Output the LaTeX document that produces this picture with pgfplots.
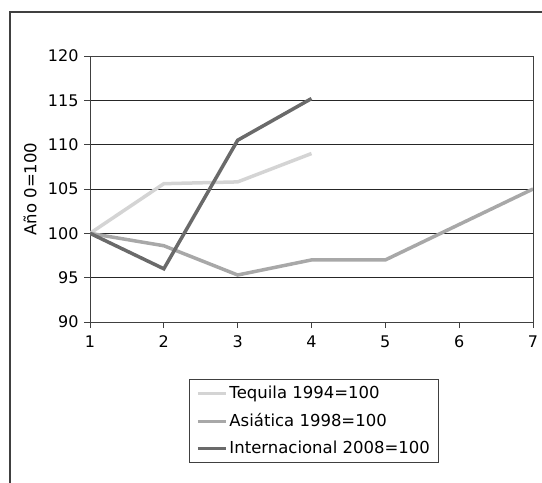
\documentclass[border=0pt]{standalone}
\usepackage{fontspec}
\setmainfont{DejaVu Sans}
\usepackage{pgfplots}
\pgfplotsset{compat=1.18}
\definecolor{teq}{HTML}{D4D4D4}
\definecolor{asi}{HTML}{A8A8A8}
\definecolor{int}{HTML}{6A6A6A}
\definecolor{frm}{HTML}{404040}
\begin{document}
\fontsize{16bp}{19bp}\selectfont
\begin{tikzpicture}
\path[use as bounding box] (0,0) rectangle (542bp,483bp);
\draw[frm, line width=1.2bp] (10bp,0) -- (10bp,471bp) -- (542bp,471bp);
\begin{axis}[
  at={(90bp,161bp)}, anchor=south west,
  scale only axis, width=443bp, height=266bp,
  xmin=1, xmax=7, ymin=90, ymax=120,
  xtick={1,2,3,4,5,6,7}, ytick={90,95,100,105,110,115,120},
  xtick pos=bottom, ytick pos=left,
  /pgf/number format/assume math mode=true,
  tick align=outside, major tick length=6bp,
  tick style={frm, line width=0.9bp},
  axis line style={frm, line width=0.9bp},
  ymajorgrids, grid style={black!85, line width=0.8bp},
  ylabel={Año 0=100},
  ylabel style={at={(axis description cs:-0.1354,0.5)}, anchor=center},
  xticklabel style={yshift=-2bp},
  tick label style={font=\fontsize{16bp}{19bp}\selectfont},
  label style={font=\fontsize{16.5bp}{19bp}\selectfont},
  legend style={at={(0.2235,-0.2143)}, anchor=north west, draw=frm, line width=0.9bp,
    font=\fontsize{16.5bp}{19bp}\selectfont, row sep=8bp, inner xsep=7bp, inner ysep=5bp,
    cells={anchor=west}, nodes={inner xsep=2bp, inner ysep=2bp}},
  legend image code/.code={\draw[#1, line width=3bp] (0bp,0bp) -- (28bp,0bp);},
]
\addplot[teq, line width=3.5bp] coordinates {(1,100) (2,105.6) (3,105.8) (4,109.0)};
\addlegendentry{Tequila 1994=100}
\addplot[asi, line width=3.5bp] coordinates {(1,100) (2,98.6) (3,95.3) (4,97.0) (5,97.0) (6,101.0) (7,105.0)};
\addlegendentry{Asiática 1998=100}
\addplot[int, line width=3.5bp] coordinates {(1,100) (2,96.0) (3,110.5) (4,115.2)};
\addlegendentry{Internacional 2008=100}
\end{axis}
\end{tikzpicture}
\end{document}
